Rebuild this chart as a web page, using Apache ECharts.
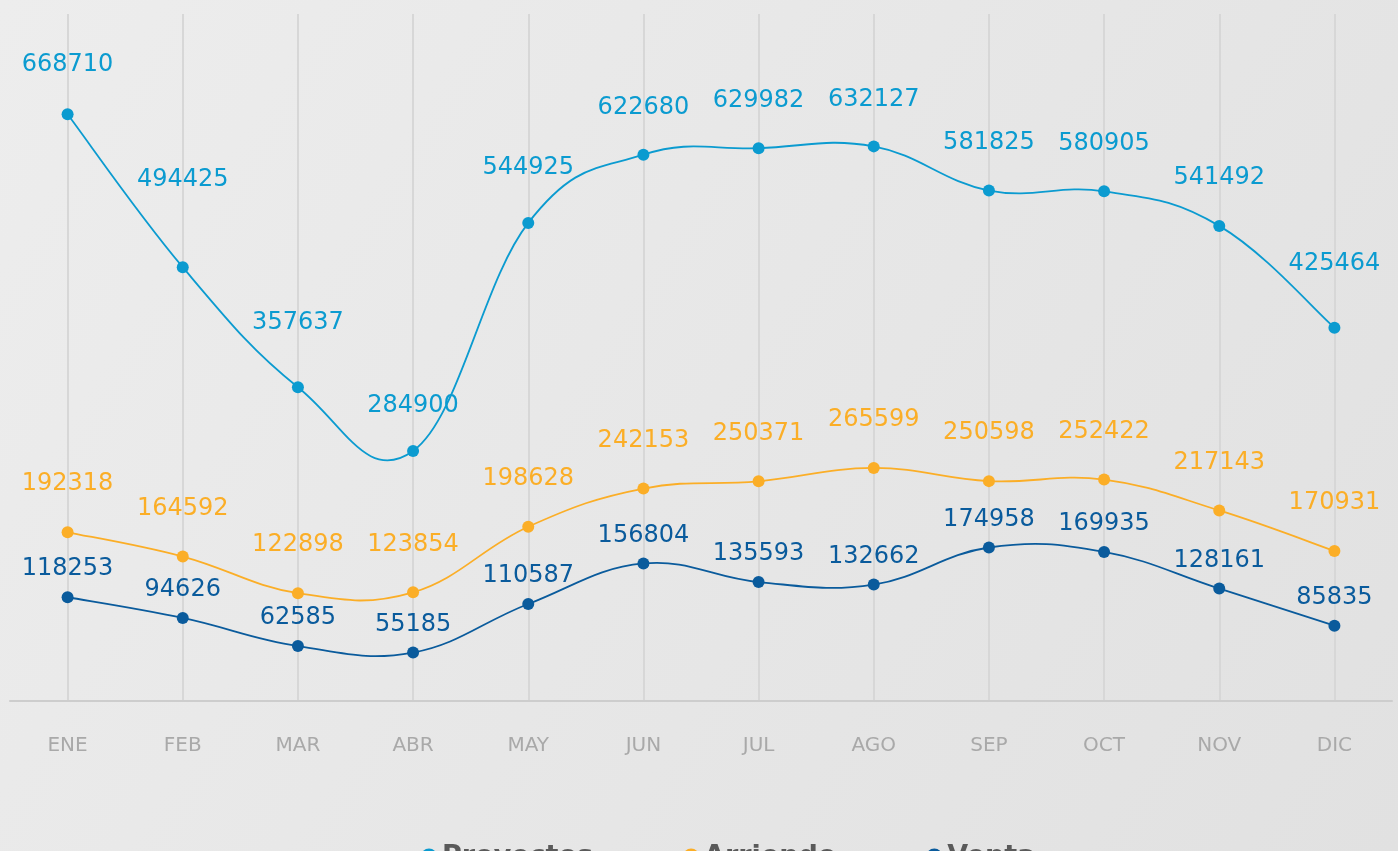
<!DOCTYPE html>
<html>
<head>
<meta charset="utf-8">
<script src="https://cdn.jsdelivr.net/npm/echarts@6/dist/echarts.min.js"></script>
<style>
  html, body { margin: 0; padding: 0; }
  #chart { width: 1398px; height: 851px; }
</style>
</head>
<body>
<div id="chart"></div>
<script>
const months = ['ENE', 'FEB', 'MAR', 'ABR', 'MAY', 'JUN', 'JUL', 'AGO', 'SEP', 'OCT', 'NOV', 'DIC']
const proyectos = [668710, 494425, 357637, 284900, 544925, 622680, 629982, 632127, 581825, 580905, 541492, 425464]
const arriendo = [192318, 164592, 122898, 123854, 198628, 242153, 250371, 265599, 250598, 252422, 217143, 170931]
const venta = [118253, 94626, 62585, 55185, 110587, 156804, 135593, 132662, 174958, 169935, 128161, 85835]

// label lift for the top line, so labels clear the curve
const proyLabelGap = [32, 69, 46, 27, 37, 29, 29, 29, 30, 30, 30, 46]

const chart = echarts.init(document.getElementById('chart'))

// cardinal spline through the projected points (echarts' own smoothing clamps at peaks)
function splinePath(pts, s) {
  let d = 'M' + pts[0][0] + ' ' + pts[0][1]
  for (let i = 0; i < pts.length - 1; i++) {
    const p0 = pts[i - 1] || pts[i]
    const p1 = pts[i]
    const p2 = pts[i + 1]
    const p3 = pts[i + 2] || pts[i + 1]
    const c1x = p1[0] + (p2[0] - p0[0]) * s / 3
    const c1y = p1[1] + (p2[1] - p0[1]) * s / 3
    const c2x = p2[0] - (p3[0] - p1[0]) * s / 3
    const c2y = p2[1] - (p3[1] - p1[1]) * s / 3
    d += ' C' + c1x + ' ' + c1y + ' ' + c2x + ' ' + c2y + ' ' + p2[0] + ' ' + p2[1]
  }
  return d
}

function makeCurve(color, values) {
  return {
    type: 'custom',
    silent: true,
    data: [0],
    z: 2,
    renderItem: (params, api) => {
      const pts = values.map((v, i) => api.coord([i, v]))
      return {
        type: 'path',
        shape: { pathData: splinePath(pts, 0.6) },
        style: { fill: null, stroke: color, lineWidth: 1.8 }
      }
    }
  }
}

function makeSeries(name, color, values, gap) {
  return {
    name: name,
    type: 'line',
    symbol: 'circle',
    symbolSize: 12,
    data: values.map((v, i) => ({
      value: v,
      label: { distance: Array.isArray(gap) ? gap[i] : gap }
    })),
    itemStyle: { color: color },
    lineStyle: { color: color, width: 0, opacity: 0 },
    label: {
      show: true,
      position: 'top',
      color: color,
      fontFamily: 'DejaVu Sans',
      fontSize: 24
    },
    z: 3
  }
}

const option = {
  backgroundColor: {
    type: 'linear', x: 0, y: 0, x2: 1, y2: 1,
    colorStops: [
      { offset: 0, color: '#ededed' },
      { offset: 1, color: '#e1e1e1' }
    ]
  },
  animation: false,
  grid: {
    left: 10,
    right: 6,
    top: 14,
    bottom: 150
  },
  legend: {
    data: ['Proyectos', 'Arriendo', 'Venta'],
    left: 416,
    top: 838,
    icon: 'circle',
    itemWidth: 16,
    itemHeight: 16,
    itemGap: 90,
    textStyle: {
      color: '#5a5a5a',
      fontFamily: 'DejaVu Sans',
      fontWeight: 'bold',
      fontSize: 27
    }
  },
  xAxis: {
    type: 'category',
    data: months,
    boundaryGap: true,
    axisLine: { lineStyle: { color: '#cdcdcd', width: 2 } },
    axisTick: { show: false },
    axisLabel: {
      color: '#a9a9a9',
      fontFamily: 'DejaVu Sans',
      fontSize: 20,
      margin: 35
    },
    splitLine: {
      show: true,
      alignWithLabel: true,
      lineStyle: { color: '#d7d7d7', width: 2 }
    }
  },
  yAxis: {
    type: 'value',
    show: false,
    min: 0,
    max: 783000,
    splitLine: { show: false }
  },
  series: [
    makeCurve('#0b9bd0', proyectos),
    makeCurve('#fbae27', arriendo),
    makeCurve('#0a5b9c', venta),
    makeSeries('Proyectos', '#0b9bd0', proyectos, proyLabelGap),
    makeSeries('Arriendo', '#fbae27', arriendo, 30),
    makeSeries('Venta', '#0a5b9c', venta, 10)
  ]
}

chart.setOption(option)
</script>
</body>
</html>
